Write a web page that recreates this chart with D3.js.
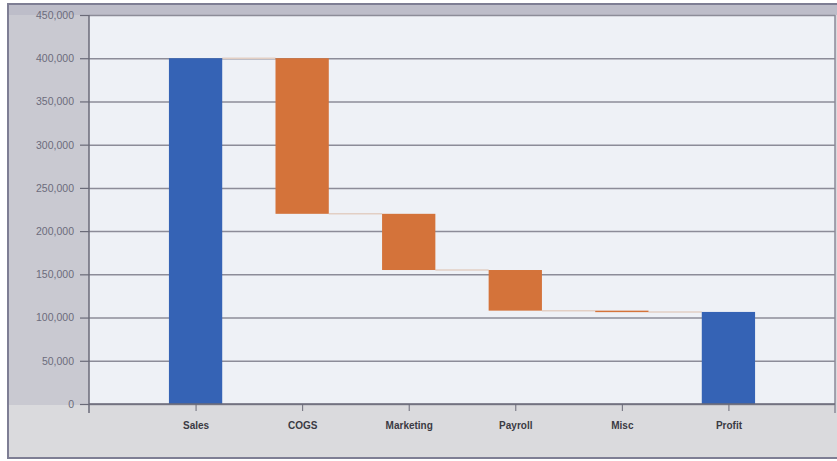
<!DOCTYPE html>
<html><head><meta charset="utf-8">
<script src="https://cdn.jsdelivr.net/npm/d3@7"></script>
<style>body{margin:0;background:#fff}svg{display:block}</style>
</head><body><svg id="c" width="837" height="461"></svg>
<script>
const categories = ["Sales","COGS","Marketing","Payroll","Misc","Profit"];
const amounts = [400000, -180000, -65000, -47000, -1500, 106500];
const kinds = ["total","delta","delta","delta","delta","total"];
const yTicks = [0,50000,100000,150000,200000,250000,300000,350000,400000,450000];

const svg = d3.select("#c");
const L = 89, R = 835, T = 15, B = 404;

// frame
svg.append("rect").attr("x",8).attr("y",4).attr("width",835).attr("height",454)
  .attr("fill","#dadadd").attr("stroke","#7e7e94").attr("stroke-width",2);
svg.append("rect").attr("x",9).attr("y",5).attr("width",80).attr("height",400).attr("fill","#c9c9d1");
svg.append("rect").attr("x",9).attr("y",5).attr("width",830).attr("height",10).attr("fill","#bdbdc9");
svg.append("rect").attr("x",L).attr("y",T).attr("width",R-L).attr("height",B-T).attr("fill","#eef1f6");

const x = d3.scalePoint().domain(categories).range([L,R]).padding(1);
const y = d3.scaleLinear().domain([0,450000]).range([B,T]);
const bw = x.step()*0.5;

// gridlines
svg.append("g").attr("transform",`translate(${L},0)`)
  .call(d3.axisLeft(y).tickValues(yTicks).tickSize(-(R-L)).tickFormat(""))
  .call(g=>g.select(".domain").remove())
  .call(g=>g.selectAll("line").attr("stroke","#8c8c98").attr("stroke-width",1.5));

// compute waterfall
let run = 0;
const bars = categories.map((c,i)=>{
  let y0,y1;
  if(kinds[i]==="total"){ y0=0; y1=amounts[i]; run=amounts[i]; }
  else { y0=run; y1=run+amounts[i]; run=y1; }
  return {c,y0,y1,kind:kinds[i]};
});

// connectors
for(let i=0;i<bars.length-1;i++){
  const lvl = bars[i].y1;
  svg.append("line").attr("x1",x(bars[i].c)+bw/2).attr("x2",x(bars[i+1].c)-bw/2)
    .attr("y1",y(lvl)).attr("y2",y(lvl)).attr("stroke","#e2cfc4").attr("stroke-width",1.5);
}

svg.selectAll("rect.bar").data(bars).join("rect").attr("class","bar")
  .attr("x",d=>x(d.c)-bw/2).attr("width",bw)
  .attr("y",d=>y(Math.max(d.y0,d.y1)))
  .attr("height",d=>Math.max(1.5,Math.abs(y(d.y0)-y(d.y1))))
  .attr("fill",d=>d.kind==="total"?"#3563b5":"#d4733a");

// y axis
const ya = svg.append("g").attr("transform",`translate(${L},0)`)
  .call(d3.axisLeft(y).tickValues(yTicks).tickSize(9).tickPadding(6).tickFormat(d3.format(",")));
ya.select(".domain").remove();
ya.selectAll("line").attr("stroke","#6a6a78").attr("stroke-width",1.2);
ya.selectAll("text").attr("fill","#6c6c7c").style("font","10.5px 'Liberation Sans', Arial, sans-serif");
svg.append("line").attr("x1",L).attr("x2",L).attr("y1",T).attr("y2",B+9).attr("stroke","#6a6a78").attr("stroke-width",1.5);
svg.append("line").attr("x1",R).attr("x2",R).attr("y1",T).attr("y2",B+9).attr("stroke","#8a8a98").attr("stroke-width",1.5);

// x axis
const xa = svg.append("g").attr("transform",`translate(0,${B})`)
  .call(d3.axisBottom(x).tickSize(7).tickPadding(11));
xa.select(".domain").attr("stroke","#6a6a78").attr("stroke-width",1.5).attr("d",`M${L},0H${R}`);
xa.selectAll("line").attr("stroke","#6a6a78");
xa.selectAll("text").attr("fill","#3a3a44").style("font","bold 10px 'Liberation Sans', Arial, sans-serif");
</script></body></html>
